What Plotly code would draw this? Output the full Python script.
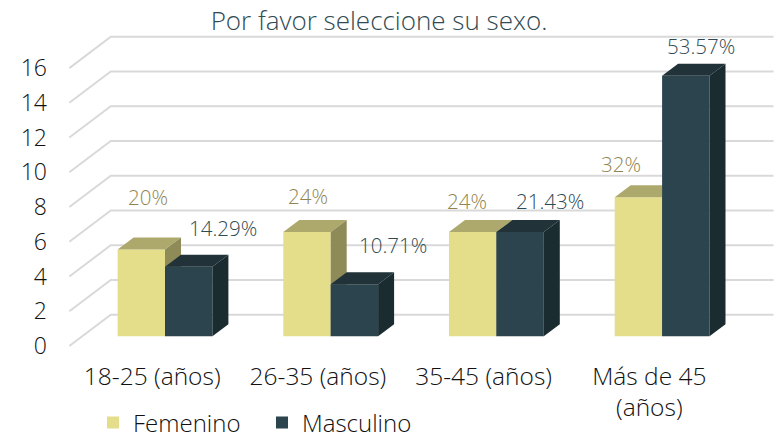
import plotly.graph_objects as go

categories = ["18-25 (años)", "26-35 (años)", "35-45 (años)", "Más de 45<br>(años)"]
femenino = [5, 6, 6, 8]
masculino = [4, 3, 6, 15]
fem_labels = ["20%", "24%", "24%", "32%"]
masc_labels = ["14.29%", "10.71%", "21.43%", "53.57%"]
y_ticks = [0, 2, 4, 6, 8, 10, 12, 14, 16]

# label nudges in pixels relative to the top of each bar's front face
fem_nudge = [(6.7, 52.5), (0.7, 36), (-5.9, 31.4), (-17.3, 33.3)]
masc_nudge = [(34.3, 38.8), (38.8, 39.2), (29.7, 31), (15.3, 30)]

W, H = 774, 440
L, B = 51, 85
STEP_X, STEP_Y = 165.7, 17.37
FRONT_X0, BAR_X0 = 152.2, 165.0
FRONT_Y0, BAR_Y0 = 346.0, 336.3
PLOT_B = H - B

BAR_W = 47.4 / STEP_X
DX, DY = 16 / STEP_X, 12 / STEP_Y
WALL_DX, WALL_DY = 41.4 / STEP_X, 31.3 / STEP_Y

FEM, FEM_TOP, FEM_SIDE = "#E4DE8B", "#ADA96D", "#8F8B59"
MASC, MASC_TOP, MASC_SIDE = "#2C444D", "#213339", "#1B2C31"
FONT = "Open Sans"
TXT = "#111111"
FEM_TXT, MASC_TXT = "#8F8550", "#2F4A53"


def xr(x0):
    return [(L - x0) / STEP_X, (W - x0) / STEP_X]


def yr(y0):
    return [(y0 - PLOT_B) / STEP_Y, y0 / STEP_Y]


def faces(vals, off):
    top_x, top_y, side_x, side_y = [], [], [], []
    for i, v in enumerate(vals):
        a, b = i + off, i + off + BAR_W
        top_x += [a, a + DX, b + DX, b, a, None]
        top_y += [v, v + DY, v + DY, v, v, None]
        side_x += [b, b + DX, b + DX, b, b, None]
        side_y += [v, v + DY, DY, 0, v, None]
    return top_x, top_y, side_x, side_y


fig = go.Figure()

# floor / wall gridlines in the axis-label plane
for t in y_ticks:
    fig.add_trace(go.Scatter(
        x=[-0.5, -0.5 + WALL_DX, 3.5 + WALL_DX],
        y=[t, t + WALL_DY, t + WALL_DY],
        mode="lines", line=dict(color="#D9D9D9", width=2),
        hoverinfo="skip", showlegend=False, xaxis="x", yaxis="y"))


def series(name, vals, off, front, top, side, ax, ay):
    fig.add_trace(go.Bar(
        x=list(range(len(vals))), y=vals, name=name, width=BAR_W, offset=off,
        marker=dict(color=front, line=dict(width=0)), xaxis=ax, yaxis=ay))
    tx, ty, sx, sy = faces(vals, off)
    for fx, fy, col in ((tx, ty, top), (sx, sy, side)):
        fig.add_trace(go.Scatter(
            x=fx, y=fy, mode="lines", fill="toself", fillcolor=col,
            line=dict(width=0, color=col), hoverinfo="skip",
            showlegend=False, xaxis=ax, yaxis=ay))


series("Femenino", femenino, -BAR_W, FEM, FEM_TOP, FEM_SIDE, "x2", "y2")
series("Masculino", masculino, 0, MASC, MASC_TOP, MASC_SIDE, "x3", "y3")

annotations = []
for i, (v, t, (nx, ny)) in enumerate(zip(femenino, fem_labels, fem_nudge)):
    annotations.append(dict(x=i - BAR_W / 2, y=v, xref="x2", yref="y2", text=t,
                            showarrow=False, xshift=nx, yshift=ny,
                            font=dict(family=FONT, size=20.5, weight=300, color=FEM_TXT)))
for i, (v, t, (nx, ny)) in enumerate(zip(masculino, masc_labels, masc_nudge)):
    annotations.append(dict(x=i + BAR_W / 2, y=v, xref="x3", yref="y3", text=t,
                            showarrow=False, xshift=nx, yshift=ny,
                            font=dict(family=FONT, size=20.5, weight=300, color=MASC_TXT)))

hidden = dict(visible=False, fixedrange=True)
fig.update_layout(
    width=W, height=H,
    margin=dict(l=L, r=0, t=0, b=B, pad=0),
    paper_bgcolor="white", plot_bgcolor="white",
    showlegend=True,
    hovermode=False,
    title=dict(text="Por favor seleccione su sexo.", x=379 / W, xanchor="center",
               y=1 - 21 / H, yanchor="middle",
               font=dict(family=FONT, size=26, weight=300, color=MASC_TXT)),
    legend=dict(orientation="h", xref="container", yref="container",
                x=93 / W, xanchor="left", y=1 - 423 / H, yanchor="middle",
                entrywidth=124, entrywidthmode="pixels",
                font=dict(family=FONT, size=24, weight=300, color=TXT), bgcolor="rgba(0,0,0,0)",
                itemclick=False),
    annotations=annotations,
    xaxis=dict(range=xr(FRONT_X0), tickmode="array", tickvals=list(range(len(categories))),
               ticktext=categories, showgrid=False, zeroline=False, showline=False, ticks="",
               ticklabelstandoff=4, tickangle=0, automargin=False,
               tickfont=dict(family=FONT, size=24.5, weight=300, color=TXT)),
    yaxis=dict(range=yr(FRONT_Y0), tickmode="array", tickvals=y_ticks, showgrid=False,
               zeroline=False, showline=False, ticks="", ticklabelstandoff=3, automargin=False,
               tickfont=dict(family=FONT, size=23, weight=300, color=TXT)),
    xaxis2=dict(range=xr(BAR_X0), overlaying="x", **hidden),
    yaxis2=dict(range=yr(BAR_Y0), overlaying="y", **hidden),
    xaxis3=dict(range=xr(BAR_X0), overlaying="x", **hidden),
    yaxis3=dict(range=yr(BAR_Y0), overlaying="y", **hidden),
)

fig.write_html("out.html", config=dict(displayModeBar=False),
               post_script="document.body.style.margin='0';")
